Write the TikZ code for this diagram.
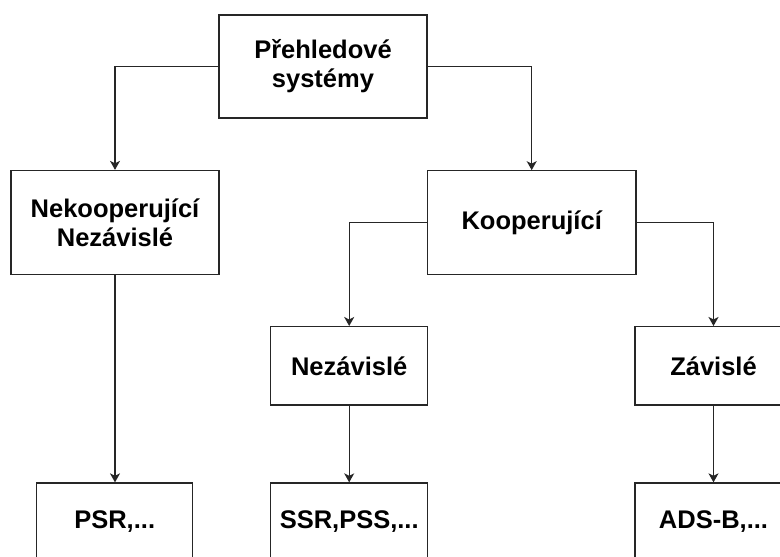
\documentclass[tikz,border=0pt]{standalone}
\usepackage{fontspec}
\setmainfont{Liberation Sans}
\usetikzlibrary{arrows.meta}
\definecolor{linec}{HTML}{262626}
\begin{document}
\begin{tikzpicture}[x=1pt,y=-1pt,
  box/.style={draw=linec,line width=1.3pt,fill=white,rectangle,align=center,
    font=\fontsize{25.5}{29}\selectfont\bfseries,inner sep=0pt},
  conn/.style={draw=linec,line width=1.3pt,-{Stealth[length=9pt,width=10pt,inset=2.5pt]}}]
\useasboundingbox (0,0) rectangle (780,557);
\clip (0,0) rectangle (780,557);
\fill[white] (0,0) rectangle (780,557);
\node[box,minimum width=208pt,minimum height=103pt] (top) at (323,66.5) {Přehledové\\systémy};
\node[box,minimum width=208pt,minimum height=104pt] (nek) at (115,222.5) {Nekooperující\\Nezávislé};
\node[box,minimum width=208.7pt,minimum height=104pt] (koop) at (531.7,222.8) {Kooperující};
\node[box,minimum width=157pt,minimum height=78.3pt] (nez) at (349.2,365.8) {Nezávislé};
\node[box,minimum width=157pt,minimum height=78.3pt] (zav) at (713.5,365.8) {Závislé};
\node[box,minimum width=156pt,minimum height=78pt] (psr) at (114.7,522) {PSR,...};
\node[box,minimum width=157pt,minimum height=78pt] (ssr) at (349.2,522) {SSR,PSS,...};
\node[box,minimum width=157pt,minimum height=78pt] (ads) at (713.5,522) {ADS-B,...};
\draw[conn] (top.west) -| (nek.north);
\draw[conn] (top.east) -| (koop.north);
\draw[conn] (koop.west) -| (nez.north);
\draw[conn] (koop.east) -| (zav.north);
\draw[conn] (nek.south) -- (nek.south |- psr.north);
\draw[conn] (nez.south) -- (ssr.north);
\draw[conn] (zav.south) -- (ads.north);
\end{tikzpicture}
\end{document}
